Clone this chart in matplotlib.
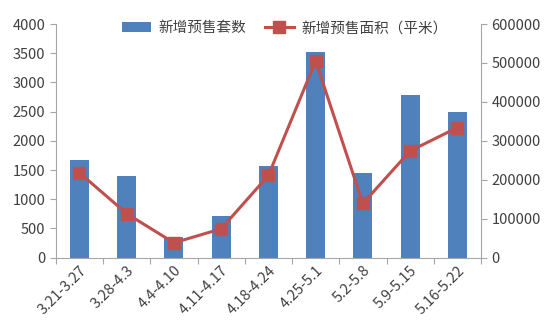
import matplotlib
matplotlib.use("Agg")
import matplotlib.pyplot as plt
import numpy as np

plt.rcParams['font.family'] = ['Noto Sans CJK SC', 'DejaVu Sans']

periods = ["3.21-3.27", "3.28-4.3", "4.4-4.10", "4.11-4.17", "4.18-4.24",
           "4.25-5.1", "5.2-5.8", "5.9-5.15", "5.16-5.22"]
units = [1675, 1400, 345, 705, 1575, 3525, 1455, 2790, 2500]
area = [218000, 113000, 38000, 74000, 211000, 505000, 139000, 274000, 334000]

bar_color = "#4F81BD"
line_color = "#C0504D"
axis_color = "#A6A6A6"
text_color = "#404040"

fig = plt.figure(figsize=(5.58, 3.2), dpi=100)
ax = fig.add_axes([0.1, 0.195, 0.762, 0.73])
ax2 = ax.twinx()

x = np.arange(len(periods))
b = ax.bar(x, units, width=0.4, color=bar_color, label="新增预售套数", zorder=2)
l, = ax2.plot(x, area, color=line_color, lw=2.2, marker="s", ms=9,
              label="新增预售面积（平米）", zorder=3)

ax.set_xlim(-0.5, len(periods) - 0.5)
ax.set_ylim(0, 4000)
ax.set_yticks(range(0, 4001, 500))
ax2.set_ylim(0, 600000)
ax2.set_yticks(range(0, 600001, 100000))

ax.set_xticks(np.arange(-0.5, len(periods), 1), minor=False)
ax.set_xticklabels([])
ax.set_xticks(x, minor=True)
ax.set_xticklabels(periods, minor=True, rotation=45, ha="right",
                   rotation_mode="anchor", fontsize=10.5, color=text_color)
ax.tick_params(axis="x", which="minor", length=0, pad=4)
ax.tick_params(axis="x", which="major", length=4, color=axis_color)
ax.tick_params(axis="y", labelsize=10.5, length=4, color=axis_color,
               labelcolor=text_color)
ax2.tick_params(axis="y", labelsize=10.5, length=4, color=axis_color,
                labelcolor=text_color)

for a in (ax, ax2):
    a.spines["top"].set_visible(False)
    for s in ("left", "right", "bottom"):
        a.spines[s].set_color(axis_color)
ax.spines["right"].set_visible(False)
ax2.spines["left"].set_visible(False)
ax2.spines["bottom"].set_visible(False)

ax.set_zorder(ax2.get_zorder() - 1)
ax2.patch.set_visible(False)

leg = fig.legend([b, l], ["新增预售套数", "新增预售面积（平米）"], loc="upper center",
                 bbox_to_anchor=(0.51, 0.975), ncol=2, frameon=False, fontsize=10.5,
                 handlelength=2.0, handletextpad=0.5, columnspacing=1.3)
for t in leg.get_texts():
    t.set_color(text_color)

fig.savefig("out.png", dpi=100)
